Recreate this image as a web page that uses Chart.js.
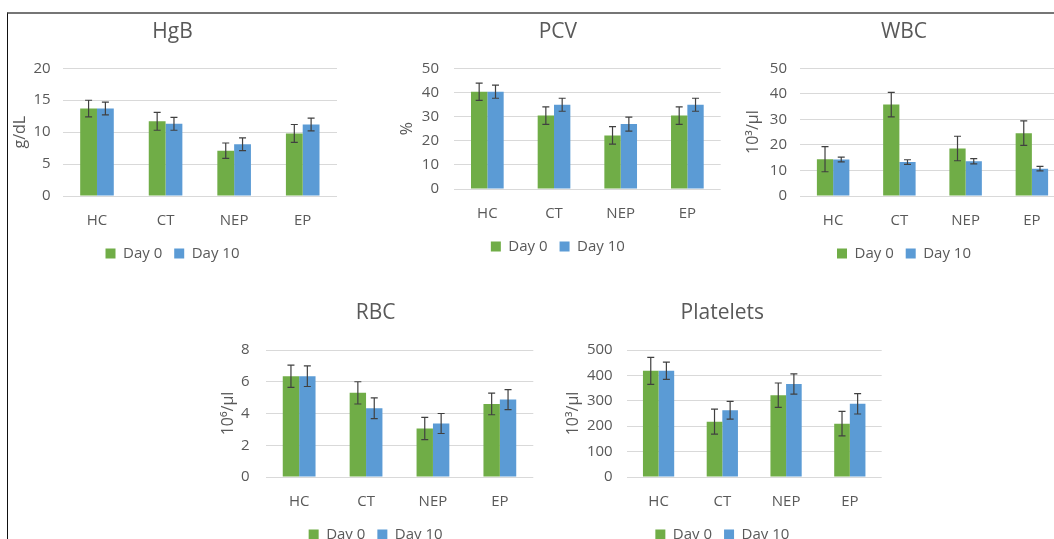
<!DOCTYPE html>
<html>
<head>
<meta charset="utf-8">
<script src="https://cdn.jsdelivr.net/npm/chart.js@4.4.1/dist/chart.umd.min.js"></script>
<style>
  html, body { margin: 0; padding: 0; background: #fff; }
  body { width: 1054px; height: 539px; overflow: hidden; position: relative; }
  #frame { position: absolute; left: 7px; top: 12px; right: -5px; bottom: -5px;
           border-top: 2px solid #767676; border-left: 1px solid #111; }
  canvas { position: absolute; }
</style>
</head>
<body>
<div id="frame"></div>
<canvas id="hgb"></canvas>
<canvas id="pcv"></canvas>
<canvas id="wbc"></canvas>
<canvas id="rbc"></canvas>
<canvas id="plt"></canvas>
<script>
// --- Data ---
const groups = ['HC', 'CT', 'NEP', 'EP'];
const seriesNames = ['Day 0', 'Day 10'];

const hgbDay0 = [13.7, 11.7, 7.1, 9.8];
const hgbDay0Err = [1.3, 1.4, 1.2, 1.4];
const hgbDay10 = [13.7, 11.3, 8.1, 11.2];
const hgbDay10Err = [1.0, 1.0, 1.0, 1.0];
const hgbTicks = [0, 5, 10, 15, 20];

const pcvDay0 = [40.3, 30.4, 22.2, 30.4];
const pcvDay0Err = [3.6, 3.6, 3.6, 3.6];
const pcvDay10 = [40.3, 34.9, 26.9, 34.9];
const pcvDay10Err = [2.7, 2.7, 2.9, 2.7];
const pcvTicks = [0, 10, 20, 30, 40, 50];

const wbcDay0 = [14.4, 35.8, 18.6, 24.6];
const wbcDay0Err = [4.9, 4.8, 4.8, 4.8];
const wbcDay10 = [14.3, 13.3, 13.6, 10.7];
const wbcDay10Err = [0.9, 0.9, 1.0, 0.9];
const wbcTicks = [0, 10, 20, 30, 40, 50];

const rbcDay0 = [6.35, 5.3, 3.05, 4.6];
const rbcDay0Err = [0.7, 0.7, 0.7, 0.68];
const rbcDay10 = [6.35, 4.33, 3.37, 4.88];
const rbcDay10Err = [0.65, 0.65, 0.63, 0.63];
const rbcTicks = [0, 2, 4, 6, 8];

const pltDay0 = [418, 218, 322, 210];
const pltDay0Err = [53, 49, 48, 48];
const pltDay10 = [418, 263, 366, 288];
const pltDay10Err = [34, 35, 40, 40];
const pltTicks = [0, 100, 200, 300, 400, 500];

// --- Styles ---
const GREEN = '#70AD47';
const BLUE = '#5B9BD5';
const TEXT = '#595959';
const FONT = "'Open Sans', sans-serif";
Chart.defaults.font.family = FONT;
Chart.defaults.color = TEXT;

// error bars drawn on top of each bar through the y scale
const errorBars = {
    id: 'errorBars',
    afterDatasetsDraw(chart) {
        const { ctx } = chart;
        const y = chart.scales.y;
        ctx.save();
        ctx.strokeStyle = '#404040';
        ctx.lineWidth = 1.2;
        chart.data.datasets.forEach((ds, i) => {
            const meta = chart.getDatasetMeta(i);
            meta.data.forEach((bar, j) => {
                const v = ds.data[j], e = ds.errors[j];
                const yt = y.getPixelForValue(v + e);
                const yb = y.getPixelForValue(v - e);
                const x = bar.x, w = 3.5;
                ctx.beginPath();
                ctx.moveTo(x, yt); ctx.lineTo(x, yb);
                ctx.moveTo(x - w, yt); ctx.lineTo(x + w, yt);
                ctx.moveTo(x - w, yb); ctx.lineTo(x + w, yb);
                ctx.stroke();
            });
        });
        ctx.restore();
    }
};

// --- Layout (page pixels) ---
const TITLE_SIZE = 21, TITLE_PAD_TOP = 4;
const UNIT_SIZE = 16;
const X_AXIS_H = 38, LEGEND_H = 37;

const panels = [
    { id: 'hgb', title: 'HgB', unit: 'g/dL', d0: hgbDay0, e0: hgbDay0Err, d10: hgbDay10, e10: hgbDay10Err, ticks: hgbTicks,
      left: 8, right: 338, titleY: 32, area: { l: 62.7, t: 68.3, r: 337, b: 196 }, yTitleX: 20, tickGap: 12 },
    { id: 'pcv', title: 'PCV', unit: '%', d0: pcvDay0, e0: pcvDay0Err, d10: pcvDay10, e10: pcvDay10Err, ticks: pcvTicks,
      left: 395, right: 721, titleY: 32, area: { l: 454, t: 68.3, r: 720.7, b: 189 }, yTitleX: 407, tickGap: 15 },
    { id: 'wbc', title: 'WBC', unit: '10³/µl', d0: wbcDay0, e0: wbcDay0Err, d10: wbcDay10, e10: wbcDay10Err, ticks: wbcTicks,
      left: 743, right: 1069, titleY: 32, area: { l: 800, t: 68.3, r: 1065, b: 196 }, yTitleX: 753, tickGap: 13 },
    { id: 'rbc', title: 'RBC', unit: '10⁶/µl', d0: rbcDay0, e0: rbcDay0Err, d10: rbcDay10, e10: rbcDay10Err, ticks: rbcTicks,
      left: 218, right: 534, titleY: 313, area: { l: 265.7, t: 350, r: 533.3, b: 476.7 }, yTitleX: 228, tickGap: 16 },
    { id: 'plt', title: 'Platelets', unit: '10³/µl', d0: pltDay0, e0: pltDay0Err, d10: pltDay10, e10: pltDay10Err, ticks: pltTicks,
      left: 563, right: 891, titleY: 313, area: { l: 626.7, t: 350, r: 881.7, b: 476.7 }, yTitleX: 573, tickGap: 14 }
];

panels.forEach(p => {
    const canvas = document.getElementById(p.id);
    const top = Math.round(p.titleY - TITLE_PAD_TOP - TITLE_SIZE * 0.6);
    const width = p.right - p.left;
    const height = Math.round(p.area.b + X_AXIS_H + LEGEND_H - top);
    canvas.width = width;
    canvas.height = height;
    canvas.style.left = p.left + 'px';
    canvas.style.top = top + 'px';

    new Chart(canvas, {
        type: 'bar',
        data: {
            labels: groups,
            datasets: [
                { label: seriesNames[0], data: p.d0, errors: p.e0, backgroundColor: GREEN },
                { label: seriesNames[1], data: p.d10, errors: p.e10, backgroundColor: BLUE }
            ]
        },
        options: {
            responsive: false,
            animation: false,
            layout: { padding: { right: Math.max(p.right - p.area.r, 0) } },
            datasets: { bar: { categoryPercentage: 0.49, barPercentage: 1 } },
            plugins: {
                tooltip: { enabled: false },
                title: {
                    display: true,
                    text: p.title,
                    color: TEXT,
                    font: { size: TITLE_SIZE, weight: 'normal' },
                    padding: { top: TITLE_PAD_TOP, bottom: p.area.t - top - TITLE_PAD_TOP - TITLE_SIZE * 1.2 }
                },
                legend: {
                    position: 'bottom',
                    labels: { boxWidth: 10, boxHeight: 10, padding: 12, color: TEXT, font: { size: 15 } }
                }
            },
            scales: {
                x: {
                    grid: { display: false },
                    border: { display: false },
                    ticks: { color: TEXT, font: { size: 15 }, padding: 8 },
                    afterFit: s => { s.height = X_AXIS_H; }
                },
                y: {
                    min: p.ticks[0],
                    max: p.ticks[p.ticks.length - 1],
                    afterBuildTicks: s => { s.ticks = p.ticks.map(v => ({ value: v })); },
                    grid: { color: '#d9d9d9', drawTicks: false },
                    border: { display: false },
                    ticks: { color: TEXT, font: { size: 15 }, padding: p.tickGap },
                    title: { display: true, text: p.unit, color: TEXT, font: { size: UNIT_SIZE },
                             padding: { top: p.yTitleX - p.left - UNIT_SIZE * 0.6, bottom: 0 } },
                    afterFit: s => { s.width = p.area.l - p.left; }
                }
            }
        },
        plugins: [errorBars]
    });
});
</script>
</body>
</html>
